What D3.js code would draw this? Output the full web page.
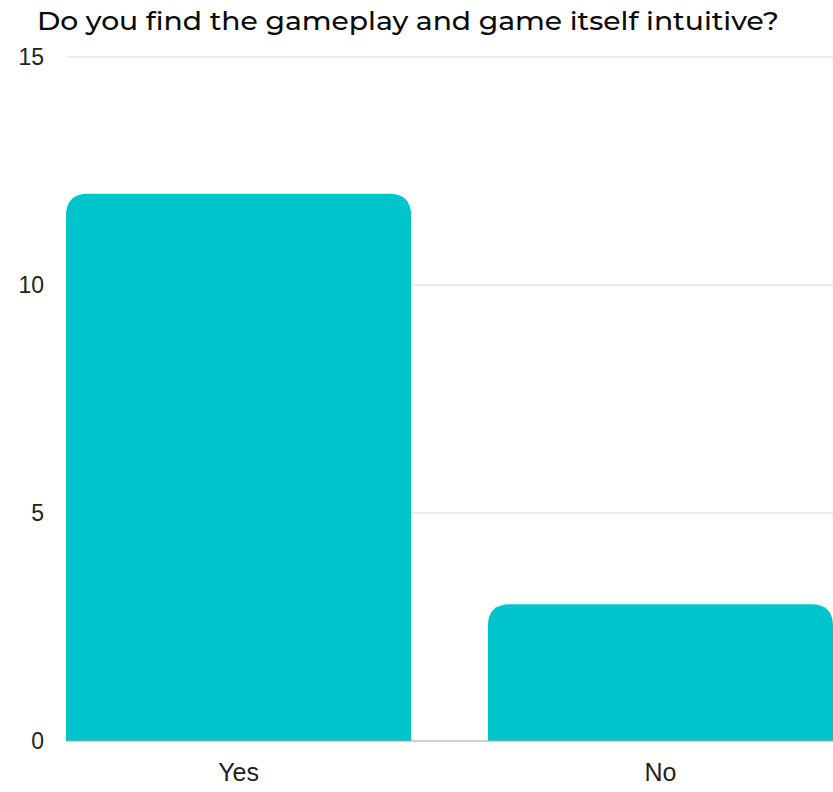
<!DOCTYPE html>
<html>
<head>
<meta charset="utf-8">
<script src="https://cdn.jsdelivr.net/npm/d3@7/dist/d3.min.js"></script>
<style>
  html, body { margin: 0; padding: 0; background: #fff; }
  svg { display: block; }
</style>
</head>
<body>
<script>
// Survey answers
const categories = ["Yes", "No"];
const values = [12, 3];
const yTicks = [0, 5, 10, 15];
const title = "Do you find the gameplay and game itself intuitive?";

const width = 833, height = 792;
const plotLeft = 66, plotRight = 833, plotTop = 57, plotBottom = 741;

const svg = d3.select("body").append("svg")
  .attr("width", width).attr("height", height);

const x = d3.scaleBand().domain(categories)
  .range([plotLeft, plotRight]).paddingInner(0.182).paddingOuter(0);
const y = d3.scaleLinear().domain([0, 15]).range([plotBottom, plotTop]);

// Title
svg.append("text")
  .attr("x", 37).attr("y", 30)
  .attr("font-family", "Montserrat, 'Open Sans', sans-serif")
  .attr("font-weight", 500)
  .attr("font-size", 25.5)
  .attr("textLength", 742)
  .attr("lengthAdjust", "spacingAndGlyphs")
  .attr("fill", "#0a0a0a")
  .text(title);

// Horizontal grid lines
svg.append("g").selectAll("line")
  .data(yTicks.filter(d => d !== 0))
  .join("line")
  .attr("x1", plotLeft).attr("x2", plotRight)
  .attr("y1", d => y(d)).attr("y2", d => y(d))
  .attr("stroke", "#d9d9d9").attr("stroke-width", 1.2);

// Y axis labels
svg.append("g").selectAll("text")
  .data(yTicks)
  .join("text")
  .attr("x", 44).attr("y", d => y(d) + 8)
  .attr("text-anchor", "end")
  .attr("font-family", "'Liberation Sans', Arial, sans-serif")
  .attr("font-size", 23)
  .attr("fill", "#222")
  .text(d => d);

// Bars with rounded top corners
const r = 22;
function topRounded(x0, y0, w, h) {
  const rr = Math.min(r, h, w / 2);
  return `M${x0},${y0 + h}V${y0 + rr}Q${x0},${y0} ${x0 + rr},${y0}` +
         `H${x0 + w - rr}Q${x0 + w},${y0} ${x0 + w},${y0 + rr}V${y0 + h}Z`;
}
svg.append("g").selectAll("path")
  .data(categories.map((c, i) => ({ c, v: values[i] })))
  .join("path")
  .attr("d", d => topRounded(x(d.c), y(d.v), x.bandwidth(), y(0) - y(d.v)))
  .attr("fill", "#00C4CC");

// Baseline
svg.append("line")
  .attr("x1", plotLeft).attr("x2", plotRight)
  .attr("y1", y(0)).attr("y2", y(0))
  .attr("stroke", "#a6a6a6").attr("stroke-width", 1.2);

// Category labels
svg.append("g").selectAll("text")
  .data(categories)
  .join("text")
  .attr("x", d => x(d) + x.bandwidth() / 2)
  .attr("y", 781)
  .attr("text-anchor", "middle")
  .attr("font-family", "'Liberation Sans', Arial, sans-serif")
  .attr("font-size", 25)
  .attr("fill", "#222")
  .text(d => d);
</script>
</body>
</html>
